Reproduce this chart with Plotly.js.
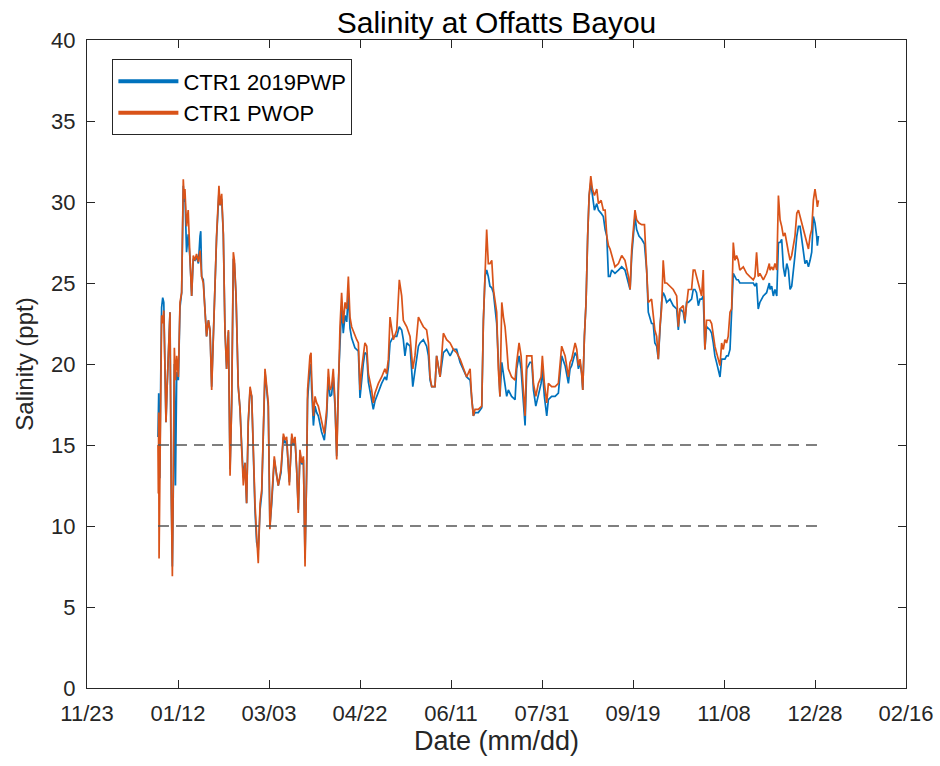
<!DOCTYPE html>
<html>
<head>
<meta charset="utf-8">
<script src="https://cdn.plot.ly/plotly-3.0.1.min.js"></script>
<style>html,body{margin:0;padding:0;background:#fff;}#chart{width:940px;height:766px;}</style>
</head>
<body>
<div id="chart"></div>
<script>
// Day of year 2019 (0 = Jan 1) for each reading
const doy = [
0.0,0.2,0.4,0.6,1.0,1.5,2.0,2.6,3.2,3.8,4.4,5.0,5.7,6.6,7.3,7.9,8.5,9.0,9.6,10.3,11.2,12.1,13.0,13.4,13.9,14.4,14.8,15.7,16.6,17.6,18.5,19.4,20.3,21.2,22.2,23.1,23.5,24.0,24.9,25.8,26.7,27.7,28.6,29.5,30.4,31.3,32.2,33.5,34.1,35.0,35.9,36.8,37.7,38.7,39.6,40.5,41.4,42.0,42.9,44.1,45.1,46.0,46.9,47.8,48.7,49.6,50.6,51.5,52.4,53.3,54.2,55.1,56.1,57.0,58.8,
60.6,61.5,62.5,63.9,65.2,66.1,67.6,68.9,69.8,70.7,72.2,73.5,74.4,75.3,76.2,77.1,78.0,79.0,79.9,80.8,81.7,82.2,83.5,84.1,84.4,85.4,86.3,87.2,88.1,89.9,91.4,92.7,93.6,94.5,95.4,96.3,97.3,98.2,99.1,100.0,100.9,101.8,102.8,103.7,104.6,105.5,106.4,108.2,109.2,110.1,111.0,111.9,112.8,113.7,114.7,115.6,117.4,118.3,119.2,121.1,122.9,124.7,125.6,126.6,
127.5,129.3,131.2,132.6,133.9,134.8,135.7,136.7,138.5,140.0,141.2,143.1,144.0,145.8,147.6,148.6,149.5,150.4,152.2,153.1,155.0,156.8,158.6,160.5,162.3,164.1,166.0,167.8,169.6,171.5,172.4,173.3,174.2,176.0,177.9,178.8,179.7,180.6,181.5,182.4,183.4,184.3,186.1,187.0,187.9,188.9,189.8,190.7,191.6,192.5,194.3,
196.2,197.1,198.4,199.5,200.8,201.7,202.6,204.4,205.4,206.3,207.6,209.0,210.5,211.2,212.3,213.6,214.5,216.3,218.2,220.0,221.8,223.7,225.5,226.4,227.3,229.2,230.1,231.0,231.9,232.8,233.4,234.3,235.2,236.1,236.9,237.8,238.7,239.8,241.1,242.0,243.5,244.7,245.7,246.6,247.5,248.4,249.3,251.1,253.0,254.8,256.6,258.5,259.4,260.3,261.2,262.1,263.0,264.3,265.8,267.3,
268.5,269.4,271.2,272.1,273.0,274.0,274.9,275.8,276.7,277.6,278.5,279.5,281.3,283.1,285.0,285.9,286.8,288.6,289.5,290.4,291.4,293.2,294.1,295.0,295.9,296.9,297.8,298.7,299.6,300.5,301.4,303.3,304.2,305.1,306.0,306.9,307.8,308.8,309.7,310.6,311.5,312.4,313.3,314.3,315.2,316.1,317.0,317.9,318.8,319.7,321.6,323.4,325.2,327.1,328.0,328.9,329.8,330.7,332.6,334.4,335.9,
336.3,337.2,338.1,339.0,340.0,340.9,341.8,342.7,343.6,344.5,345.5,346.4,347.3,348.2,349.1,350.0,351.0,351.9,352.8,353.7,354.6,355.5,356.4,357.4,358.3,359.2,360.1,361.0,361.9,362.3,362.9
];

// CTR1 2019PWP (blue)
const pwp = [
15.5,17.5,18.2,13.0,13.0,19.0,23.5,24.1,23.8,20.0,16.4,18.5,20.5,23.2,12.0,7.5,13.0,20.0,12.5,19.5,19.0,23.5,24.4,26.5,31.0,30.0,30.5,26.9,28.0,26.5,24.2,26.5,26.4,26.6,26.2,27.9,28.2,25.4,25.2,23.4,21.7,22.7,22.1,18.6,22.0,25.6,27.8,30.6,29.8,30.2,28.0,22.1,19.7,22.0,13.5,17.6,26.5,26.2,24.2,18.6,17.2,14.9,13.0,13.9,11.4,16.4,18.4,18.0,14.3,11.0,9.0,8.5,11.0,12.0,19.5,
17.4,10.0,11.4,14.1,13.0,12.5,13.3,15.5,15.1,15.3,12.7,15.5,15.0,15.3,13.5,11.0,14.5,13.8,14.1,8.0,13.3,17.8,19.8,20.0,18.5,16.2,17.4,17.0,16.8,15.8,15.3,16.8,19.2,18.0,18.1,19.2,17.3,14.3,18.8,21.6,23.6,21.9,23.0,22.6,24.4,22.2,21.6,21.0,20.9,20.8,17.9,19.2,20.0,20.7,20.6,18.9,17.9,17.2,17.7,18.3,18.8,19.2,19.0,19.8,
21.3,21.7,21.7,22.3,22.1,21.5,20.5,21.3,21.1,18.6,19.7,21.1,21.3,21.5,21.1,20.5,19.0,18.6,18.6,20.5,19.2,20.7,20.9,20.5,20.9,20.9,20.1,19.7,19.2,19.0,17.8,16.8,17.0,17.0,17.3,22.7,25.4,25.8,25.4,24.8,24.7,24.4,22.5,19.7,18.0,20.1,19.4,18.8,18.0,18.4,18.0,
17.8,19.7,20.5,19.7,17.6,16.2,19.7,20.1,20.1,18.4,17.4,18.0,18.8,19.7,18.0,16.8,17.8,18.0,18.0,18.2,20.5,19.9,18.8,19.7,19.9,20.7,20.5,19.7,20.1,19.4,18.4,21.7,23.8,27.9,30.4,31.2,30.4,29.5,29.9,29.5,29.3,29.1,28.3,27.9,25.4,25.4,25.8,25.6,25.8,26.0,25.8,25.0,24.6,26.7,27.9,29.1,28.3,27.9,27.7,27.4,
25.8,23.2,22.5,22.5,21.3,21.1,20.3,22.3,23.8,24.4,24.2,23.8,24.0,23.6,23.4,22.1,23.4,23.2,22.5,23.8,23.8,24.0,24.6,24.6,24.4,23.6,24.0,24.0,24.2,20.9,22.3,22.1,21.9,21.3,20.5,20.1,19.7,19.2,20.3,20.3,20.3,20.5,20.5,20.9,22.9,25.6,25.4,25.2,25.2,25.0,25.0,25.0,25.0,25.0,24.8,25.0,23.4,23.8,24.2,24.4,25.0,
24.6,24.8,24.2,24.6,24.2,27.5,27.5,27.7,26.0,25.4,26.2,25.8,24.6,24.8,26.0,26.7,27.9,28.5,28.5,27.7,26.9,26.2,26.4,26.0,26.4,26.9,29.1,28.7,27.9,27.3,27.9
];

// CTR1 PWOP (orange)
const pwop = [
15.0,12.0,17.0,8.0,12.5,20.0,23.0,22.5,23.3,20.0,16.4,18.5,20.5,23.2,12.0,6.9,14.0,21.0,19.0,20.5,19.2,23.8,24.4,27.0,31.4,30.2,30.8,28.5,29.5,26.5,24.2,26.7,26.4,26.8,26.3,27.0,26.0,25.4,25.0,23.4,21.7,22.7,22.1,18.4,22.1,25.8,27.9,31.0,29.8,30.5,28.0,22.1,19.7,22.1,13.1,17.6,26.9,26.4,24.2,18.6,17.2,14.7,12.5,13.9,11.4,16.4,18.6,18.0,14.3,11.4,9.4,7.7,11.4,12.2,19.7,
17.6,9.8,11.4,14.3,13.1,12.5,13.5,15.7,15.3,15.5,12.5,15.7,15.1,15.5,13.5,10.8,14.7,13.9,14.3,7.5,13.5,18.4,20.5,20.7,19.2,16.8,18.0,17.6,17.4,16.4,15.7,17.2,19.7,18.4,18.6,19.7,17.6,14.1,19.2,22.3,24.4,22.5,23.8,23.4,25.4,22.9,22.3,21.7,21.5,21.3,18.4,19.7,20.5,21.3,21.1,19.4,18.4,17.6,18.2,18.8,19.2,19.7,19.4,20.3,
22.9,21.5,22.1,25.2,24.2,22.7,22.5,22.3,21.7,19.7,20.5,22.9,22.7,22.3,22.1,21.3,19.2,18.6,18.6,20.5,19.2,21.9,21.5,21.3,20.9,20.7,20.3,19.7,19.2,19.7,17.8,16.8,17.2,17.2,17.4,22.7,25.8,28.3,26.2,26.2,26.4,24.6,23.2,19.7,18.0,23.8,22.9,22.3,21.1,19.7,19.2,
19.0,20.1,21.3,20.5,18.0,16.8,20.5,20.5,20.5,18.8,18.0,18.8,19.2,20.5,18.8,17.6,18.8,18.6,18.6,18.8,21.1,20.5,19.2,20.1,20.3,21.3,20.9,19.9,20.3,19.4,18.4,21.7,23.8,27.9,30.4,31.6,30.8,30.4,30.8,29.9,30.1,29.5,29.5,27.9,27.3,27.1,26.7,26.0,26.2,26.7,26.4,25.4,24.6,27.1,28.3,29.5,28.9,28.7,28.6,28.6,
25.8,23.8,24.0,23.2,22.1,21.7,20.3,22.3,23.4,26.4,25.0,25.0,24.8,24.6,24.2,22.3,23.4,23.6,22.7,23.8,24.6,24.6,25.8,25.8,25.4,25.0,24.6,24.2,25.8,20.9,22.7,22.7,22.5,21.7,21.1,20.7,20.3,19.9,21.3,20.9,21.5,21.3,21.7,23.2,23.4,27.5,26.4,26.7,26.4,25.8,26.0,25.6,25.4,25.2,25.4,26.9,25.4,25.6,25.2,25.6,26.2,
25.8,26.0,25.8,26.2,25.8,30.4,28.9,28.5,27.9,28.1,27.3,26.9,26.4,26.7,27.3,27.9,29.3,29.5,29.1,28.7,28.3,27.9,27.5,27.1,27.9,28.3,30.1,30.8,30.1,29.7,30.1
];

const thresholds = [15, 10];
const tickDates = ['2018-11-23','2019-01-12','2019-03-03','2019-04-22','2019-06-11','2019-07-31','2019-09-19','2019-11-08','2019-12-28','2020-02-16'];
const tickLabels = ['11/23','01/12','03/03','04/22','06/11','07/31','09/19','11/08','12/28','02/16'];
const yTicks = [0,5,10,15,20,25,30,35,40];
const seriesNames = ['CTR1 2019PWP', 'CTR1 PWOP'];

const base = Date.UTC(2019, 0, 1);
function toDate(d) {
  return new Date(base + d * 86400000).toISOString().slice(0, 19).replace('T', ' ');
}
const dates = doy.map(toDate);

const BLUE = '#0072BD', ORANGE = '#D95319', INK = '#262626';
const FONT = 'Liberation Sans, Arial, Helvetica, sans-serif';

const traces = [
  {x: dates, y: pwp, type: 'scatter', mode: 'lines', line: {color: BLUE, width: 1.7}, showlegend: false, hoverinfo: 'skip'},
  {x: dates, y: pwop, type: 'scatter', mode: 'lines', line: {color: ORANGE, width: 1.7}, showlegend: false, hoverinfo: 'skip'}
];
thresholds.forEach(t => traces.push({
  x: [dates[0], dates[dates.length - 1]], y: [t, t], type: 'scatter', mode: 'lines',
  line: {color: '#555555', width: 1.5, dash: '11px,7px'}, showlegend: false, hoverinfo: 'skip'
}));
// legend entries (thicker sample lines as in the original)
[[seriesNames[0], BLUE], [seriesNames[1], ORANGE]].forEach(([n, c]) => traces.push({
  x: [null], y: [null], type: 'scatter', mode: 'lines', name: n, line: {color: c, width: 4}, showlegend: true
}));

const layout = {
  width: 940, height: 766,
  margin: {l: 87, r: 34, t: 40, b: 78},
  paper_bgcolor: '#fff', plot_bgcolor: '#fff',
  font: {family: FONT, color: INK, size: 22},
  title: {text: 'Salinity at Offatts Bayou', font: {size: 30, color: '#000'}, x: 0.5, xref: 'paper', y: 0.971, yref: 'container', yanchor: 'middle'},
  xaxis: {
    type: 'date', range: [tickDates[0], tickDates[tickDates.length - 1]],
    tickmode: 'array', tickvals: tickDates, ticktext: tickLabels,
    ticks: 'inside', ticklen: 8, tickwidth: 1, tickcolor: INK,
    showline: true, linecolor: INK, linewidth: 1, mirror: 'ticks',
    showgrid: false, zeroline: false,
    tickfont: {size: 22, color: INK}, ticklabelstandoff: 6,
    title: {text: 'Date (mm/dd)', font: {size: 27, color: INK}, standoff: 4}
  },
  yaxis: {
    range: [0, 40], tickmode: 'array', tickvals: yTicks,
    ticks: 'inside', ticklen: 8, tickwidth: 1, tickcolor: INK,
    showline: true, linecolor: INK, linewidth: 1, mirror: 'ticks',
    showgrid: false, zeroline: false,
    tickfont: {size: 22, color: INK}, ticklabelstandoff: 6,
    title: {text: 'Salinity (ppt)', font: {size: 24, color: INK}, standoff: 10}
  },
  legend: {
    x: 0.031, y: 0.97, xanchor: 'left', yanchor: 'top',
    bgcolor: '#fff', bordercolor: INK, borderwidth: 1,
    font: {size: 22, color: '#000'}, itemwidth: 60, tracegroupgap: 0
  },
  showlegend: true
};

Plotly.newPlot('chart', traces, layout, {staticPlot: true, displayModeBar: false});
</script>
</body>
</html>
